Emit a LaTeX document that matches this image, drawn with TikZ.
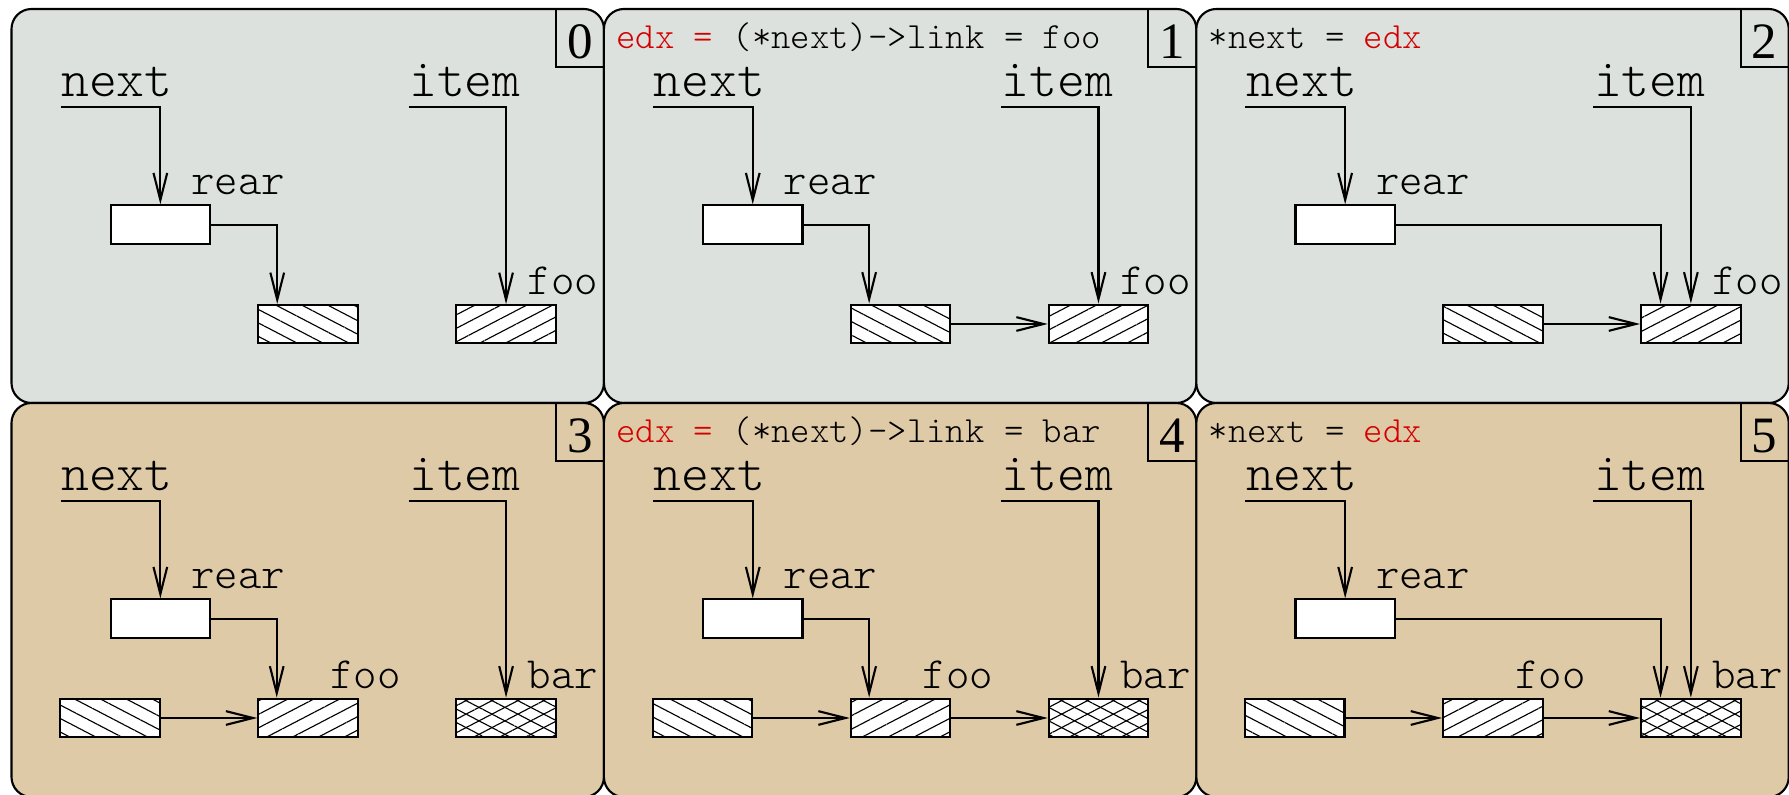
\documentclass[tikz,border=0pt]{standalone}
\usepackage{fontspec}
\newfontfamily\numfont{Liberation Serif}
\newfontfamily\ttlight{lmmonolt10-regular.otf}
\usetikzlibrary{arrows.meta,patterns.meta}

\definecolor{topbg}{RGB}{220,225,221}
\definecolor{botbg}{RGB}{222,202,166}
\definecolor{edxred}{RGB}{210,0,0}

\tikzset{
  panel/.style={draw, line width=0.6pt, rounded corners=0.2cm},
  var/.style={font=\ttlight\fontsize{15.1}{17}\selectfont, inner sep=0pt, anchor=base west},
  lbl/.style={font=\ttlight\fontsize{12.7}{14}\selectfont, inner sep=0pt, anchor=base west},
  code/.style={font=\ttlight\fontsize{10.5}{12}\selectfont, inner sep=0pt, anchor=base west},
  num/.style={font=\numfont\fontsize{14.5}{16}\selectfont, inner sep=0pt, anchor=base},
  cell/.style={draw, line width=0.6pt, preaction={fill=white}, minimum width=0.993cm, minimum height=0.388cm, inner sep=0pt},
  oldcell/.style={cell, pattern={Lines[angle=-27.5,distance=3.4pt,line width=0.32pt]}},
  foocell/.style={cell, pattern={Lines[angle=27.5,distance=3.4pt,line width=0.32pt]}},
  barcell/.style={cell, preaction={pattern={Lines[angle=27.5,distance=3.4pt,line width=0.32pt]}},
    pattern={Lines[angle=-27.5,distance=3.4pt,line width=0.32pt]}},
  ptr/.style={line width=0.6pt, -{Straight Barb[length=7.7pt,width=3.9pt]}}
}

\begin{document}
\begin{tikzpicture}[x=0.01cm, y=-0.01cm]
  \useasboundingbox (0,0) rectangle (1789,795);

  % frames and the parts every step shares
  \foreach \n/\ox/\oy/\bg in {0/11.5/9/topbg, 1/603.9/9/topbg, 2/1196.3/9/topbg,
                              3/11.5/403/botbg, 4/603.9/403/botbg, 5/1196.3/403/botbg} {
    \begin{scope}[shift={(\ox,\oy)}]
      \draw[panel, fill=\bg] (0,0) rectangle (592.4,394);
      \draw[line width=0.6pt] (544.4,0) |- (592.4,58);
      \node[num] (num\n) at (568.4,50) {\n};
      \node[var] (next\n) at (49,88) {next};
      \node[var] (item\n) at (397,88) {item};
      \node[cell] (rear\n) at (148.85,215.8) {};
      \node[lbl] (rlab\n) at (179,186) {rear};
      \draw[ptr] ([yshift=-0.1cm]next\n.base west) -| (rear\n.north);
    \end{scope}
  }

  % step 0
  \begin{scope}[shift={(11.5,9)}]
    \node[oldcell] (mid0) at (296.55,315) {};
    \node[foocell] (right0) at (494.55,315) {};
    \node[lbl] (foo0) at (515.5,286) {foo};
    \draw[ptr] (rear0.east) -| ([xshift=0.194cm]mid0.north west);
    \draw[ptr] ([yshift=-0.1cm]item0.base west) -| (right0.north);
  \end{scope}

  % step 1
  \begin{scope}[shift={(603.9,9)}]
    \node[code] (code1) at (11.7,39.3) {\textcolor{edxred}{edx =} (*next)->link = foo};
    \node[oldcell] (mid1) at (296.55,315) {};
    \node[foocell] (right1) at (494.55,315) {};
    \node[lbl] (foo1) at (515.5,286) {foo};
    \draw[ptr] (rear1.east) -| ([xshift=0.194cm]mid1.north west);
    \draw[ptr] ([yshift=-0.1cm]item1.base west) -| (right1.north);
    \draw[ptr] (mid1.east) -- (right1.west);
  \end{scope}

  % step 2
  \begin{scope}[shift={(1196.3,9)}]
    \node[code] (code2) at (11.7,39.3) {*next = \textcolor{edxred}{edx}};
    \node[oldcell] (mid2) at (296.55,315) {};
    \node[foocell] (right2) at (494.55,315) {};
    \node[lbl] (foo2) at (515.5,286) {foo};
    \draw[ptr] (rear2.east) -| ([xshift=0.204cm]right2.north west);
    \draw[ptr] ([yshift=-0.1cm]item2.base west) -| (right2.north);
    \draw[ptr] (mid2.east) -- (right2.west);
  \end{scope}

  % step 3
  \begin{scope}[shift={(11.5,403)}]
    \node[oldcell] (left3) at (98.5,315) {};
    \node[foocell] (mid3) at (296.55,315) {};
    \node[barcell] (right3) at (494.55,315) {};
    \node[lbl] (foo3) at (318.1,286) {foo};
    \node[lbl] (bar3) at (515.5,286) {bar};
    \draw[ptr] (rear3.east) -| ([xshift=0.194cm]mid3.north west);
    \draw[ptr] ([yshift=-0.1cm]item3.base west) -| (right3.north);
    \draw[ptr] (left3.east) -- (mid3.west);
  \end{scope}

  % step 4
  \begin{scope}[shift={(603.9,403)}]
    \node[code] (code4) at (11.7,39.3) {\textcolor{edxred}{edx =} (*next)->link = bar};
    \node[oldcell] (left4) at (98.5,315) {};
    \node[foocell] (mid4) at (296.55,315) {};
    \node[barcell] (right4) at (494.55,315) {};
    \node[lbl] (foo4) at (318.1,286) {foo};
    \node[lbl] (bar4) at (515.5,286) {bar};
    \draw[ptr] (rear4.east) -| ([xshift=0.194cm]mid4.north west);
    \draw[ptr] ([yshift=-0.1cm]item4.base west) -| (right4.north);
    \draw[ptr] (left4.east) -- (mid4.west);
    \draw[ptr] (mid4.east) -- (right4.west);
  \end{scope}

  % step 5
  \begin{scope}[shift={(1196.3,403)}]
    \node[code] (code5) at (11.7,39.3) {*next = \textcolor{edxred}{edx}};
    \node[oldcell] (left5) at (98.5,315) {};
    \node[foocell] (mid5) at (296.55,315) {};
    \node[barcell] (right5) at (494.55,315) {};
    \node[lbl] (foo5) at (318.1,286) {foo};
    \node[lbl] (bar5) at (515.5,286) {bar};
    \draw[ptr] (rear5.east) -| ([xshift=0.204cm]right5.north west);
    \draw[ptr] ([yshift=-0.1cm]item5.base west) -| (right5.north);
    \draw[ptr] (left5.east) -- (mid5.west);
    \draw[ptr] (mid5.east) -- (right5.west);
  \end{scope}
\end{tikzpicture}
\end{document}
